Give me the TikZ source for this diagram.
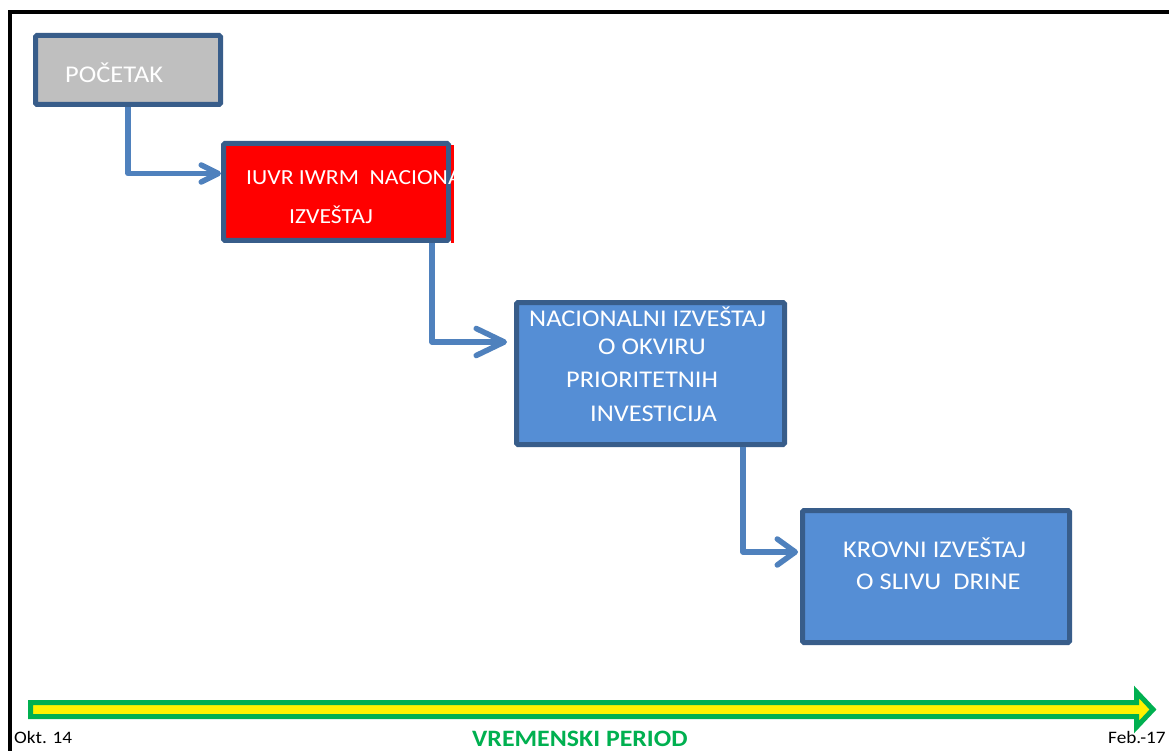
\documentclass[tikz,border=0pt]{standalone}
\usepackage{fontspec}
\setmainfont[FakeStretch=1.1]{Carlito}
\usetikzlibrary{arrows.meta}
\definecolor{boxborder}{HTML}{385D8A}
\definecolor{boxblue}{HTML}{558ED5}
\definecolor{boxgray}{HTML}{BFBFBF}
\definecolor{connblue}{HTML}{4F81BD}
\definecolor{timegreen}{HTML}{00B050}

\begin{document}
\begin{tikzpicture}[x=1pt, y=-1pt,
    stage/.style={rectangle, draw=boxborder, line width=5pt, rounded corners=1.5pt, inner sep=0pt},
    boxtext/.style={text=white, anchor=base west, inner sep=0pt, font=\fontsize{24}{29}\selectfont},
    datetext/.style={anchor=base west, inner sep=0pt, font=\fontsize{17.5}{21}\selectfont},
    conn/.style={draw=connblue, line width=5.5pt, line join=round}]
    \useasboundingbox (0,0) rectangle (1169,751);
    \fill[white] (0,0) rectangle (1169,751);
    \draw[line width=4pt] (10,770) -- (10,12) -- (1190,12);

    \node[stage, fill=boxgray, minimum width=185pt, minimum height=69pt] (pocetak) at (128,70) {};
    \node[stage, fill=red, minimum width=225pt, minimum height=97pt] (iuvr) at (336,192) {};
    \fill[red] (451,145) rectangle (453.5,243);
    \node[stage, fill=boxblue, minimum width=268pt, minimum height=142pt] (nacionalni) at (650.5,373.5) {};
    \node[stage, fill=boxblue, minimum width=267pt, minimum height=132pt] (krovni) at (936,576.5) {};

    \node[boxtext] (pocetak text) at (65,82.7) {POČETAK};
    \begin{scope}
        \clip (226,146) rectangle (453.5,243);
        \node[boxtext, font=\fontsize{21.5}{26}\selectfont] (iuvr text1) at (246,185) {IUVR IWRM~~NACIONALNI};
    \end{scope}
    \node[boxtext, font=\fontsize{21.5}{26}\selectfont] (iuvr text2) at (289,224) {IZVEŠTAJ};
    \node[boxtext] (nac text1) at (529,326.7) {NACIONALNI IZVEŠTAJ};
    \node[boxtext] (nac text2) at (598,354) {O OKVIRU};
    \node[boxtext] (nac text3) at (566,387.3) {PRIORITETNIH};
    \node[boxtext] (nac text4) at (590,421.7) {INVESTICIJA};
    \node[boxtext] (krov text1) at (843,557) {KROVNI IZVEŠTAJ};
    \node[boxtext] (krov text2) at (856,589.3) {O SLIVU~~DRINE};

    \draw[conn, -{Straight Barb[length=17pt, width=17pt, round]}] (pocetak.south) |- ([yshift=18.5pt]iuvr.west);
    \draw[conn, -{Straight Barb[length=28pt, width=27pt, round]}] ([xshift=96pt]iuvr.south) |- ([xshift=-7pt, yshift=31.5pt]nacionalni.west);
    \draw[conn, -{Straight Barb[length=18pt, width=26pt, round]}] ([xshift=92.5pt]nacionalni.south) |- ([xshift=-2pt, yshift=24.5pt]krovni.west);

    \draw[draw=timegreen, fill=yellow, line width=5pt] (30.5,702.5) -- (1136.5,702.5) -- (1136.5,692) -- (1153,709.5) -- (1136.5,727) -- (1136.5,716.5) -- (30.5,716.5) -- cycle;
    \node[datetext] (start date) at (14,743) {Okt. 14};
    \node[datetext] (end date) at (1108,743) {Feb.-17};
    \node[anchor=base west, inner sep=0pt, text=timegreen, font=\fontsize{23.5}{28}\selectfont\bfseries] (period) at (472,746.7) {VREMENSKI PERIOD};
\end{tikzpicture}
\end{document}
